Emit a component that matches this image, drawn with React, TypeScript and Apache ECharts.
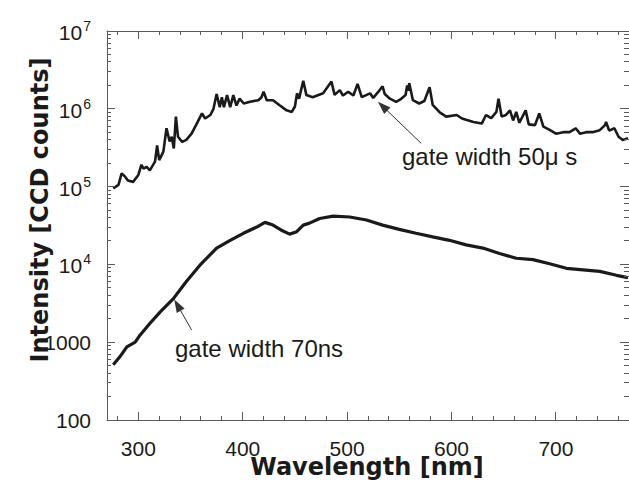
import React, { useEffect, useRef } from "react";
import * as echarts from "echarts";

// ---- data ----
const wl50us = [276, 281, 284, 287, 290, 295, 300, 303, 305, 308, 311, 316, 318, 320, 324, 327, 330, 332, 334, 336, 338, 342, 346, 351, 356, 361, 364, 369, 372, 375, 378, 380, 382, 385, 388, 391, 394, 397, 401, 407, 415, 418, 420, 423, 429, 435, 442, 447, 450, 452, 454, 458, 461, 467, 477, 485, 488, 493, 496, 501, 506, 510, 514, 522, 525, 530, 534, 536, 541, 547, 551, 556, 557.5, 558.5, 559.5, 563, 569, 574, 579, 582, 589, 595, 605, 610, 621, 629, 633, 638, 643, 645, 648, 652, 656, 659, 662, 665, 671, 674, 680, 684, 688, 694, 700, 707, 713, 719, 723, 729, 735, 742, 747, 748, 751, 756, 760, 764, 769];
const int50us = [95000, 105000, 148000, 136000, 120000, 115000, 141000, 191000, 170000, 180000, 162000, 209000, 339000, 219000, 282000, 562000, 380000, 437000, 309000, 794000, 437000, 376000, 398000, 479000, 646000, 871000, 750000, 832000, 1000000, 1550000, 1050000, 1410000, 1050000, 1500000, 1050000, 1500000, 1100000, 1350000, 1170000, 1230000, 1290000, 1410000, 1660000, 1290000, 1290000, 1120000, 955000, 912000, 1070000, 1580000, 1350000, 2290000, 1500000, 1410000, 1580000, 2240000, 1510000, 1740000, 1480000, 1660000, 1480000, 2090000, 1410000, 1580000, 1380000, 1660000, 1950000, 1550000, 1350000, 1230000, 1320000, 1500000, 2000000, 1700000, 2140000, 1290000, 1170000, 1260000, 1900000, 1120000, 891000, 794000, 832000, 750000, 676000, 646000, 832000, 759000, 912000, 1350000, 794000, 832000, 955000, 708000, 912000, 661000, 955000, 631000, 617000, 871000, 589000, 537000, 479000, 501000, 501000, 562000, 479000, 501000, 501000, 531000, 617000, 676000, 525000, 562000, 437000, 398000, 417000];

const wl70ns = [276, 282.5, 289, 297, 301.6, 311, 321, 333.6, 346, 359, 375, 388, 400.6, 413.4, 421.3, 429, 437, 445, 451.7, 458, 464, 473.7, 486.5, 502.5, 518.5, 534, 550, 566, 582, 598, 614, 630, 646, 662, 678, 694, 710, 726, 742, 758, 769];
const int70ns = [513, 653, 871, 1000, 1230, 1740, 2450, 3630, 6030, 9770, 16200, 20400, 25100, 30200, 34700, 32000, 27500, 24500, 26300, 32000, 33900, 38900, 41700, 40700, 37200, 32000, 28200, 25100, 22600, 20400, 17800, 16200, 13800, 12000, 11500, 10200, 8910, 8510, 8130, 7240, 6760];

const X_MIN = 270;
const X_MAX = 770;
const Y_MIN = 100;
const Y_MAX = 10000000;
const xMajorTicks = [300, 400, 500, 600, 700];
const xMinorTicks = [280, 320, 340, 360, 380, 420, 440, 460, 480, 520, 540, 560, 580, 620, 640, 660, 680, 720, 740, 760];
const yMajorTicks = [1000, 10000, 100000, 1000000];
const yMinorTicks: number[] = [];
for (let d = 2; d <= 6; d++) for (let k = 2; k <= 9; k++) yMinorTicks.push(k * Math.pow(10, d));

// arrows: [tail, tip] in data coordinates
const arrow50us = [[571, 359000], [534, 1080000]];
const arrow70ns = [[351, 1440], [337.5, 3000]];

const AXIS_COLOR = "#5a5a5a";
const TICK_COLOR = "#5a5a5a";
const TEXT_COLOR = "#1a1a1a";
const FONT = "'Liberation Sans', Arial, sans-serif";
const BOLD_FONT = "'DejaVu Sans', sans-serif";
const MAJOR_LEN = 8;
const MINOR_LEN = 4;

const px = (v: number) => Math.round(v - 0.5) + 0.5;

function xTickSeries(values: number[], len: number) {
  return {
    type: "custom", silent: true, clip: false, z: 5,
    data: values.map((v) => [v, 1000]),
    renderItem: (params: any, api: any) => {
      const v = api.value(0);
      const b = api.coord([v, Y_MIN]);
      const t = api.coord([v, Y_MAX]);
      const x = px(b[0]);
      return {
        type: "group",
        children: [
          { type: "line", shape: { x1: x, y1: b[1], x2: x, y2: b[1] - len }, style: { stroke: TICK_COLOR, lineWidth: 1 } },
          { type: "line", shape: { x1: x, y1: t[1], x2: x, y2: t[1] + len }, style: { stroke: TICK_COLOR, lineWidth: 1 } },
        ],
      };
    },
  };
}

function yTickSeries(values: number[], len: number) {
  return {
    type: "custom", silent: true, clip: false, z: 5,
    data: values.map((v) => [500, v]),
    renderItem: (params: any, api: any) => {
      const v = api.value(1);
      const l = api.coord([X_MIN, v]);
      const r = api.coord([X_MAX, v]);
      const y = px(l[1]);
      return {
        type: "group",
        children: [
          { type: "line", shape: { x1: l[0], y1: y, x2: l[0] + len, y2: y }, style: { stroke: TICK_COLOR, lineWidth: 1 } },
          { type: "line", shape: { x1: r[0], y1: y, x2: r[0] - len - 1, y2: y }, style: { stroke: TICK_COLOR, lineWidth: 1 } },
        ],
      };
    },
  };
}

export default function App() {
  const ref = useRef<HTMLDivElement>(null);
  useEffect(() => {
    if (!ref.current) return;
    const chart = echarts.init(ref.current, undefined, { renderer: "svg" });
    const axisLine = { show: true, onZero: false, lineStyle: { color: AXIS_COLOR, width: 1 } };

    chart.setOption({
      animation: false,
      backgroundColor: "#ffffff",
      grid: { left: 107, right: -1, top: 31, bottom: 63, containLabel: false, show: false },
      xAxis: [
        {
          type: "value", min: X_MIN, max: X_MAX, position: "bottom",
          splitLine: { show: false }, axisLine, axisTick: { show: false },
          axisLabel: { show: true, customValues: xMajorTicks, fontSize: 21, lineHeight: 15, fontFamily: FONT, color: TEXT_COLOR, margin: 21 },
        },
        {
          type: "value", min: X_MIN, max: X_MAX, position: "top",
          splitLine: { show: false }, axisLine, axisTick: { show: false },
          axisLabel: { show: false },
        },
      ],
      yAxis: {
        type: "log", logBase: 10, min: Y_MIN, max: Y_MAX,
        splitLine: { show: false }, axisLine, axisTick: { show: false },
        axisLabel: {
          show: true, margin: 16, color: TEXT_COLOR, fontFamily: FONT, fontSize: 21,
          formatter: (v: number) => {
            const e = Math.round(Math.log10(v));
            if (e <= 3) return String(Math.round(Math.pow(10, e)));
            return `{b|10}{s|${e}}`;
          },
          rich: {
            b: { fontSize: 21, fontFamily: FONT, color: TEXT_COLOR, lineHeight: 24, verticalAlign: "bottom" },
            s: { fontSize: 14, fontFamily: FONT, color: TEXT_COLOR, lineHeight: 14, verticalAlign: "top", padding: [0, 0, 0, 1] },
          },
        },
      },
      series: [
        xTickSeries(xMajorTicks, MAJOR_LEN),
        xTickSeries(xMinorTicks, MINOR_LEN),
        yTickSeries(yMajorTicks, MAJOR_LEN),
        yTickSeries(yMinorTicks, MINOR_LEN),
        {
          type: "line", name: "gate width 50 µs",
          data: wl50us.map((x, i) => [x, int50us[i]]),
          showSymbol: false, symbol: "none", z: 3,
          lineStyle: { color: "#1a1a1a", width: 2.6 },
          markLine: {
            silent: true, symbol: ["none", "triangle"], symbolSize: [9, 13],
            label: { show: false },
            lineStyle: { color: "#333", width: 1, type: "solid" },
            data: [
              [{ coord: arrow50us[0] }, { coord: arrow50us[1] }],
              [{ coord: arrow70ns[0] }, { coord: arrow70ns[1] }],
            ],
          },
        },
        {
          type: "line", name: "gate width 70 ns",
          data: wl70ns.map((x, i) => [x, int70ns[i]]),
          showSymbol: false, symbol: "none", z: 3,
          lineStyle: { color: "#1a1a1a", width: 3.2 },
        },
      ],
      graphic: [
        {
          type: "text", x: 367, y: 467,
          style: { text: "Wavelength [nm]", font: `bold 24px ${BOLD_FONT}`, fill: TEXT_COLOR, align: "center", verticalAlign: "middle" },
        },
        {
          type: "text", x: 40, y: 210, rotation: Math.PI / 2,
          style: { text: "Intensity [CCD counts]", font: `bold 24px ${BOLD_FONT}`, fill: TEXT_COLOR, align: "center", verticalAlign: "middle" },
        },
        {
          type: "text", x: 402, y: 156,
          style: { text: "gate width 50\u03bc s", font: `24px ${FONT}`, fill: TEXT_COLOR, align: "left", verticalAlign: "middle" },
        },
        {
          type: "text", x: 175, y: 348,
          style: { text: "gate width 70ns", font: `24px ${FONT}`, fill: TEXT_COLOR, align: "left", verticalAlign: "middle" },
        },
      ],
    });
    return () => chart.dispose();
  }, []);
  return <div ref={ref} style={{ position: "fixed", left: 0, top: 0, width: 629, height: 483, background: "#fff" }} />;
}
